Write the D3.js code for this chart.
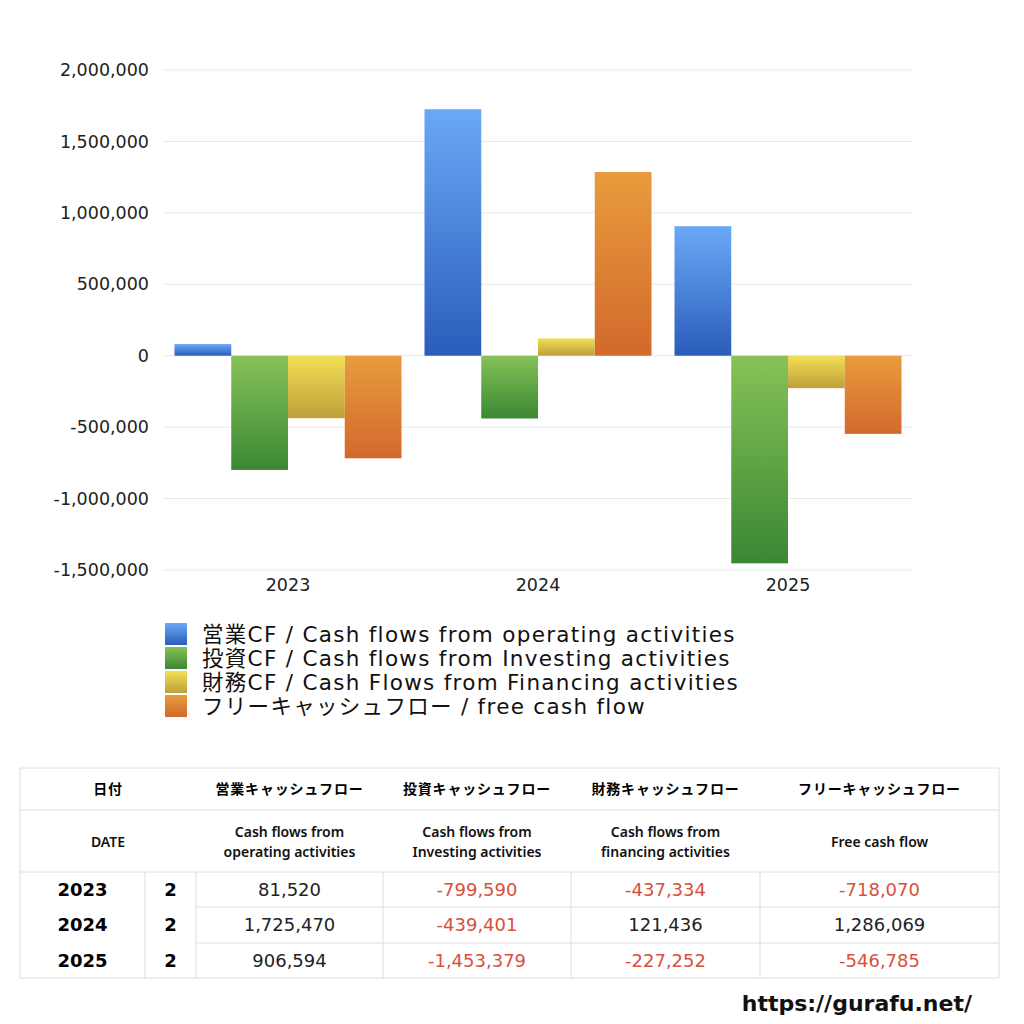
<!DOCTYPE html>
<html>
<head>
<meta charset="utf-8">
<script src="https://cdn.jsdelivr.net/npm/d3@7"></script>
<style>
  body { margin: 0; background: #fff; }
  svg { display: block; font-family: "DejaVu Sans", "Noto Sans CJK JP", sans-serif; }
</style>
</head>
<body>
<svg id="chart" width="1024" height="1024"></svg>
<script>
// data
const years = ["2023", "2024", "2025"];
const seriesNames = [
  "営業CF / Cash flows from operating activities",
  "投資CF / Cash flows from Investing activities",
  "財務CF / Cash Flows from Financing activities",
  "フリーキャッシュフロー / free cash flow"
];
const operating = [81520, 1725470, 906594];
const investing = [-799590, -439401, -1453379];
const financing = [-437334, 121436, -227252];
const freeCash = [-718070, 1286069, -546785];
const yTicks = [-1500000, -1000000, -500000, 0, 500000, 1000000, 1500000, 2000000];

const headerJa = ["営業キャッシュフロー", "投資キャッシュフロー", "財務キャッシュフロー", "フリーキャッシュフロー"];
const headerEn = [
  ["Cash flows from", "operating activities"],
  ["Cash flows from", "Investing activities"],
  ["Cash flows from", "financing activities"],
  ["Free cash flow"]
];
const monthCol = ["2", "2", "2"];

const allSeries = [operating, investing, financing, freeCash];
// gradient top / bottom colours per series
const gradTop = ["#6aa9f6", "#86c257", "#f3df55", "#e89c3d"];
const gradBot = ["#2b5cbb", "#3a8734", "#bf9f3b", "#d2692c"];

const svg = d3.select("#chart");
const margin = {top: 70, right: 111, bottom: 454, left: 163};
const width = 1024, height = 1024;

// plain hyphen for negatives, like the original
const fmt = d3.formatLocale({decimal: ".", thousands: ",", grouping: [3], currency: ["", ""], minus: "-"}).format(",");

// gradients
const defs = svg.append("defs");
seriesNames.forEach((s, i) => {
  const g = defs.append("linearGradient")
    .attr("id", "grad" + i)
    .attr("x1", 0).attr("y1", 0).attr("x2", 0).attr("y2", 1);
  g.append("stop").attr("offset", "0%").attr("stop-color", gradTop[i]);
  g.append("stop").attr("offset", "100%").attr("stop-color", gradBot[i]);
});

// scales
const x0 = d3.scaleBand()
  .domain(years)
  .range([margin.left, width - margin.right])
  .paddingInner(0.092)
  .paddingOuter(0.046);

const x1 = d3.scaleBand()
  .domain(d3.range(seriesNames.length))
  .range([0, x0.bandwidth()]);

const y = d3.scaleLinear()
  .domain([-1500000, 2000000])
  .range([height - margin.bottom, margin.top]);

// grid lines
svg.append("g")
  .selectAll("line")
  .data(yTicks)
  .enter()
  .append("line")
  .attr("x1", margin.left)
  .attr("x2", width - margin.right)
  .attr("y1", d => y(d))
  .attr("y2", d => y(d))
  .attr("stroke", "#e9e9e9")
  .attr("stroke-width", 1);

// y axis labels
const yAxis = d3.axisLeft(y).tickValues(yTicks).tickFormat(fmt).tickSize(0).tickPadding(14);
const yg = svg.append("g")
  .attr("transform", `translate(${margin.left}, 0)`)
  .call(yAxis);
yg.select(".domain").remove();
yg.selectAll("text")
  .attr("fill", "#222")
  .style("font-family", "DejaVu Sans")
  .style("font-size", "17.5px");

// x axis labels
const xAxis = d3.axisBottom(x0).tickSize(0).tickPadding(9);
const xg = svg.append("g")
  .attr("transform", `translate(0, ${height - margin.bottom})`)
  .call(xAxis);
xg.select(".domain").remove();
xg.selectAll("text")
  .attr("fill", "#222")
  .style("font-family", "DejaVu Sans")
  .style("font-size", "17.5px");

// bars
const groups = svg.append("g")
  .selectAll("g")
  .data(years)
  .enter()
  .append("g")
  .attr("transform", d => `translate(${x0(d)}, 0)`);

groups.selectAll("rect")
  .data((d, yi) => allSeries.map((s, si) => ({si: si, v: s[yi]})))
  .enter()
  .append("rect")
  .attr("x", d => x1(d.si))
  .attr("width", x1.bandwidth())
  .attr("y", d => y(Math.max(0, d.v)))
  .attr("height", d => Math.abs(y(d.v) - y(0)))
  .attr("fill", d => `url(#grad${d.si})`);

// legend
const legend = svg.append("g")
  .selectAll("g")
  .data(seriesNames)
  .enter()
  .append("g")
  .attr("transform", (d, i) => `translate(165, ${634 + i * 24})`);

legend.append("rect")
  .attr("x", 0)
  .attr("y", -11)
  .attr("width", 22)
  .attr("height", 22)
  .attr("fill", (d, i) => `url(#grad${i})`);

legend.append("text")
  .attr("x", 37)
  .attr("y", 0)
  .attr("dy", "0.36em")
  .attr("fill", "#111")
  .style("font-size", "21.5px")
  .style("letter-spacing", "1.3px")
  .text(d => d);

// table
const colX = [20, 145, 196, 383, 571, 760, 999];
const rowY = [768, 810, 872, 907, 943, 978];
const lineColor = "#dedede";
const table = svg.append("g");

// horizontal lines
[768, 810, 872, 978].forEach(yy => {
  table.append("line").attr("x1", colX[0]).attr("x2", colX[6]).attr("y1", yy).attr("y2", yy)
    .attr("stroke", lineColor);
});
[907, 943].forEach(yy => {
  table.append("line").attr("x1", colX[2]).attr("x2", colX[6]).attr("y1", yy).attr("y2", yy)
    .attr("stroke", lineColor);
});
// vertical lines
[colX[0], colX[6]].forEach(xx => {
  table.append("line").attr("x1", xx).attr("x2", xx).attr("y1", rowY[0]).attr("y2", rowY[5])
    .attr("stroke", lineColor);
});
colX.slice(1, 6).forEach(xx => {
  table.append("line").attr("x1", xx).attr("x2", xx).attr("y1", rowY[2]).attr("y2", rowY[5])
    .attr("stroke", lineColor);
});

const valCenters = [289.5, 477, 665.5, 879.5];

// header row 1
table.append("text")
  .attr("x", 108).attr("y", 789).attr("dy", "0.36em")
  .attr("text-anchor", "middle")
  .style("font-family", "Noto Sans CJK JP")
  .style("font-size", "14px").style("font-weight", "bold")
  .style("letter-spacing", "0.8px")
  .text("日付");
table.selectAll(".hja")
  .data(headerJa)
  .enter()
  .append("text")
  .attr("x", (d, i) => valCenters[i])
  .attr("y", 789).attr("dy", "0.36em")
  .attr("text-anchor", "middle")
  .style("font-family", "Noto Sans CJK JP")
  .style("font-size", "14px").style("font-weight", "bold")
  .style("letter-spacing", "0.8px")
  .text(d => d);

// header row 2
table.append("text")
  .attr("x", 108).attr("y", 842).attr("dy", "0.36em")
  .attr("text-anchor", "middle")
  .style("font-family", "Noto Sans")
  .style("font-size", "14px").style("font-weight", "600")
  .attr("fill", "#111")
  .text("DATE");
headerEn.forEach((lines, i) => {
  lines.forEach((ln, li) => {
    table.append("text")
      .attr("x", valCenters[i])
      .attr("y", 842 + (li - (lines.length - 1) / 2) * 20)
      .attr("dy", "0.36em")
      .attr("text-anchor", "middle")
      .attr("fill", "#111")
      .style("font-family", "Noto Sans")
      .style("font-size", "14px").style("font-weight", "600")
      .text(ln);
  });
});

// data rows
years.forEach((yr, ri) => {
  const cy = (rowY[ri + 2] + rowY[ri + 3]) / 2;
  table.append("text")
    .attr("x", 82.5).attr("y", cy).attr("dy", "0.36em")
    .attr("text-anchor", "middle")
    .style("font-size", "18px").style("font-weight", "bold")
    .text(yr);
  table.append("text")
    .attr("x", 170.5).attr("y", cy).attr("dy", "0.36em")
    .attr("text-anchor", "middle")
    .style("font-size", "18px").style("font-weight", "bold")
    .text(monthCol[ri]);
  allSeries.forEach((s, si) => {
    table.append("text")
      .attr("x", valCenters[si]).attr("y", cy).attr("dy", "0.36em")
      .attr("text-anchor", "middle")
      .attr("fill", s[ri] < 0 ? "#d9503c" : "#222")
      .style("font-size", "18px")
      .text(fmt(s[ri]));
  });
});

// footer url
svg.append("text")
  .attr("x", 972).attr("y", 1003).attr("dy", "0.36em")
  .attr("text-anchor", "end")
  .style("font-size", "22px").style("font-weight", "bold")
  .attr("fill", "#111")
  .text("https://gurafu.net/");
</script>
</body>
</html>
